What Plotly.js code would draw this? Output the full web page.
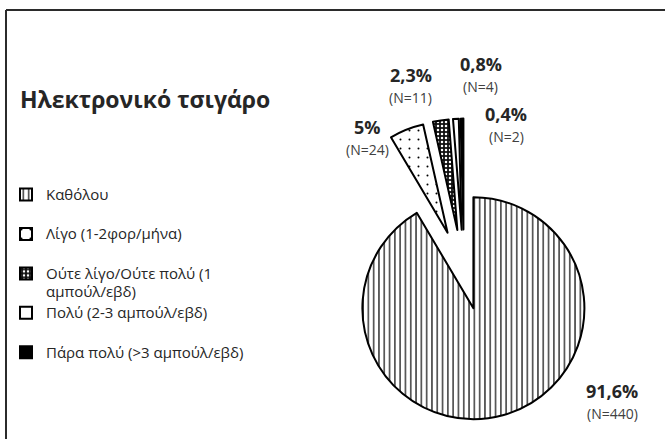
<!DOCTYPE html>
<html>
<head>
<meta charset="utf-8">
<script src="https://cdn.plot.ly/plotly-3.0.1.min.js"></script>
<style>html,body{margin:0;padding:0;background:#fff;}#chart{width:665px;height:439px;}</style>
</head>
<body>
<div id="chart"></div>
<script>
// ---- data ----
const categories = ['Καθόλου', 'Λίγο (1-2φορ/μήνα)', 'Ούτε λίγο/Ούτε πολύ (1<br>αμπούλ/εβδ)', 'Πολύ (2-3 αμπούλ/εβδ)', 'Πάρα πολύ (>3 αμπούλ/εβδ)'];
const counts = [440, 24, 11, 4, 2];
const percentLabels = ['91,6%', '5%', '2,3%', '0,8%', '0,4%'];
const chartTitle = 'Ηλεκτρονικό τσιγάρο';

// ---- styling ----
const FONT = '"Open Sans", "Noto Sans", sans-serif';
const legendSpacer = [true, true, false, true, false];
const legendLabels = categories.map((c, i) =>
  '<span style="font-size:15px">' + c + '</span>' + (legendSpacer[i] ? '<br> ' : ''));

const labelPos = [[612, 391], [367, 127], [411, 75], [481, 64], [506, 114]];
const annotations = [];
counts.forEach((n, i) => {
  annotations.push({
    xref: 'paper', yref: 'paper', x: labelPos[i][0] / 665, y: 1 - labelPos[i][1] / 439,
    xanchor: 'center', yanchor: 'middle', showarrow: false,
    text: '<b>' + percentLabels[i] + '</b>',
    font: {family: FONT, size: 18, color: '#262626'}
  });
  annotations.push({
    xref: 'paper', yref: 'paper', x: labelPos[i][0] / 665, y: 1 - (labelPos[i][1] + 22) / 439,
    xanchor: 'center', yanchor: 'middle', showarrow: false,
    text: '(N=' + n + ')',
    font: {family: FONT, size: 14, color: '#404040'}
  });
});

const trace = {
  type: 'pie',
  labels: legendLabels,
  values: counts,
  sort: false,
  direction: 'clockwise',
  rotation: 0,
  pull: [0.32, 0.4, 0.4, 0.4, 0.4],
  textinfo: 'none',
  hoverinfo: 'label+value+percent',
  domain: {x: [308.6 / 665, 619.4 / 665], y: [1 - 429.4 / 439, 1 - 118.6 / 439]},
  marker: {
    colors: ['#ffffff', '#ffffff', '#111111', '#ffffff', '#000000'],
    line: {color: '#000000', width: 2},
    pattern: {
      shape: ['|', '.', '.', '', ''],
      fgcolor: ['#000000', '#000000', '#ffffff', '#000000', '#000000'],
      bgcolor: ['#ffffff', '#ffffff', '#111111', '#ffffff', '#000000'],
      size: [5.3, 9, 4, 8, 8],
      solidity: [0.22, 0.04, 0.3, 0.3, 0.3],
      fillmode: 'replace'
    }
  }
};

const layout = {
  width: 665, height: 439,
  margin: {l: 0, r: 0, t: 0, b: 0},
  paper_bgcolor: '#ffffff',
  plot_bgcolor: '#ffffff',
  showlegend: true,
  font: {family: FONT, color: '#262626'},
  title: {
    text: '<b>' + chartTitle + '</b>',
    xref: 'paper', yref: 'paper',
    x: 20 / 665, xanchor: 'left',
    y: 1 - 100 / 439, yanchor: 'middle',
    font: {family: FONT, size: 23, color: '#262626'}
  },
  legend: {
    x: 6 / 665, xanchor: 'left',
    y: 1 - 179 / 439, yanchor: 'top',
    valign: 'top',
    bgcolor: 'rgba(0,0,0,0)',
    borderwidth: 0,
    font: {family: FONT, size: 14, color: '#262626'},
    traceorder: 'normal'
  },
  annotations: annotations,
  shapes: [
    {type: 'line', xref: 'paper', yref: 'paper', x0: 6 / 665, x1: 1, y0: 1 - 10 / 439, y1: 1 - 10 / 439, line: {color: '#2b2b2b', width: 2}},
    {type: 'line', xref: 'paper', yref: 'paper', x0: 6 / 665, x1: 6 / 665, y0: 0, y1: 1 - 10 / 439, line: {color: '#2b2b2b', width: 2}}
  ]
};

Plotly.newPlot('chart', [trace], layout, {displayModeBar: false, staticPlot: true});
</script>
</body>
</html>
